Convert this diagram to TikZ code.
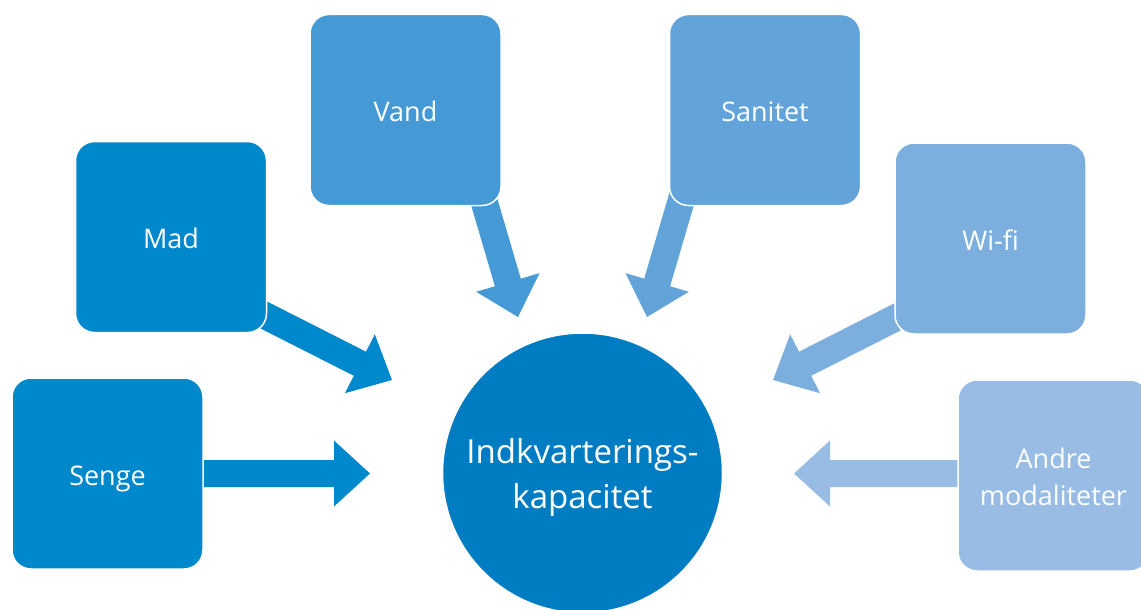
\documentclass[tikz,border=0pt]{standalone}
\usepackage{fontspec}
\setmainfont{Open Sans}
\usetikzlibrary{calc}

\definecolor{cSenge}{HTML}{0088CC}
\definecolor{cMad}{HTML}{0088CC}
\definecolor{cVand}{HTML}{4599D5}
\definecolor{cSanitet}{HTML}{62A3D9}
\definecolor{cWifi}{HTML}{7CAFDE}
\definecolor{cAndre}{HTML}{98BCE4}
\definecolor{cHub}{HTML}{007CC3}

% label lines with a fixed height, so capitals sit at the middle of the shape
\newcommand\tileline[1]{\raisebox{0pt}[23.3pt][0pt]{#1}}
\newcommand\hubline[1]{\raisebox{0pt}[26.6pt][0pt]{#1}}

\tikzset{
  tile/.style={rectangle, rounded corners=19pt, minimum size=191pt, inner sep=0pt,
    draw=white, line width=1.5pt, text=white, align=center,
    font=\fontsize{27}{37}\selectfont},
  hubnode/.style={circle, minimum size=280pt, inner sep=0pt, draw=white,
    line width=1.5pt, fill=cHub, text=white, align=center,
    font=\fontsize{33}{45}\selectfont},
}

% Block arrow from coordinate #1 to tip #2, filled with colour #3
\newcommand\blockarrow[3]{%
  \coordinate (#1-h) at ($(#2)!36pt!(#1)$);
  \fill[#3]
    ($(#1)!13.5pt!90:(#2)$) --
    ($(#1-h)!13.5pt!-90:(#1)$) --
    ($(#1-h)!33pt!-90:(#1)$) --
    (#2) --
    ($(#1-h)!33pt!90:(#1)$) --
    ($(#1-h)!13.5pt!90:(#1)$) --
    ($(#1)!13.5pt!-90:(#2)$) -- cycle;
}

\begin{document}
\begin{tikzpicture}[x=1pt,y=-1pt]
  \useasboundingbox (0,0) rectangle (1141,610);
  \clip (0,0) rectangle (1141,610);

  % arrow ends
  \coordinate (sengeA) at (190,473.5);  \coordinate (sengeT) at (370,473.5);
  \coordinate (madA)   at (250,308);    \coordinate (madT)   at (392,380);
  \coordinate (vandA)  at (481,191);    \coordinate (vandT)  at (518,317);
  \coordinate (sanA)   at (684,191);    \coordinate (sanT)   at (647,317);
  \coordinate (wifiA)  at (915,308);    \coordinate (wifiT)  at (773,380);
  \coordinate (andreA) at (970,473.5);  \coordinate (andreT) at (794,473.5);

  % arrows sit beneath the tiles
  \blockarrow{sengeA}{sengeT}{cSenge}
  \blockarrow{madA}{madT}{cMad}
  \blockarrow{vandA}{vandT}{cVand}
  \blockarrow{sanA}{sanT}{cSanitet}
  \blockarrow{wifiA}{wifiT}{cWifi}
  \blockarrow{andreA}{andreT}{cAndre}

  % tiles
  \node[tile, fill=cSenge]   (senge)   at (107.5,473.5) {\tileline{Senge}};
  \node[tile, fill=cMad]     (mad)     at (171,237)     {\tileline{Mad}};
  \node[tile, fill=cVand]    (vand)    at (405.5,110)   {\tileline{Vand}};
  \node[tile, fill=cSanitet] (sanitet) at (765,110)     {\tileline{Sanitet}};
  \node[tile, fill=cWifi]    (wifi)    at (990.5,238.5) {\tileline{Wi-fi}};
  \node[tile, fill=cAndre]   (andre)   at (1053.5,475.5)
    {\tileline{Andre}\\\tileline{modaliteter}};

  % centre
  \node[hubnode] (hub) at (582.5,473)
    {\hubline{Indkvarterings-}\\\hubline{kapacitet}};
\end{tikzpicture}
\end{document}
